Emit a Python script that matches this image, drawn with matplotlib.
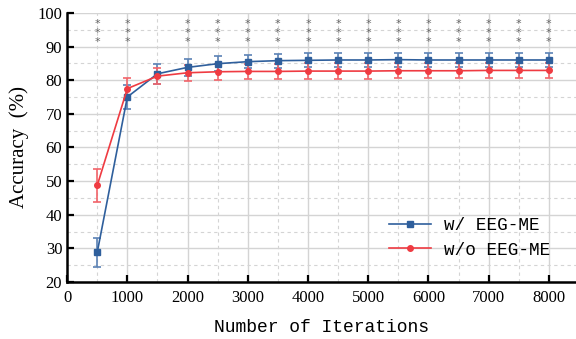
import numpy as np
import matplotlib
matplotlib.use('Agg')
import matplotlib.pyplot as plt
from matplotlib.ticker import MultipleLocator
from matplotlib.lines import Line2D

iters = [500, 1000, 1500, 2000, 2500, 3000, 3500, 4000, 4500, 5000, 5500, 6000, 6500, 7000, 7500, 8000]
acc_with = [28.8, 75.0, 81.9, 83.8, 84.9, 85.5, 85.8, 85.9, 86.0, 86.0, 86.1, 86.0, 86.0, 86.0, 86.0, 86.0]
err_with = [4.2, 3.6, 2.9, 2.5, 2.2, 2.0, 2.1, 2.1, 2.1, 2.1, 2.1, 2.1, 2.1, 2.1, 2.1, 2.1]
acc_without = [48.7, 77.5, 81.2, 82.2, 82.5, 82.6, 82.6, 82.7, 82.7, 82.7, 82.8, 82.8, 82.8, 82.9, 82.9, 82.9]
err_without = [4.9, 3.1, 2.4, 2.4, 2.4, 2.3, 2.3, 2.3, 2.3, 2.3, 2.3, 2.3, 2.3, 2.3, 2.3, 2.3]
star_iters = [500, 1000, 2000, 2500, 3000, 3500, 4000, 4500, 5000, 5500, 6000, 6500, 7000, 7500, 8000]
star_levels = [91.2, 94.0, 96.8]

BLUE = '#2f5f9c'
RED = '#ef3b42'
SERIF = 'Liberation Serif'
MONO = 'Liberation Mono'

fig = plt.figure(figsize=(5.76, 3.39), dpi=100)
ax = fig.add_axes([0.1165, 0.168, 0.8835, 0.794])

ax.errorbar(iters, acc_with, yerr=err_with, color=BLUE, ecolor='#5b82b5', lw=1.2,
            marker='s', ms=4, capsize=3, elinewidth=1.2, capthick=1.2, zorder=3)
ax.errorbar(iters, acc_without, yerr=err_without, color=RED, ecolor='#f2646a', lw=1.2,
            marker='o', ms=4, capsize=3, elinewidth=1.2, capthick=1.2, zorder=3)

for x in star_iters:
    for y in star_levels:
        ax.text(x, y, '*', color='#666666', fontsize=8, ha='center', va='center',
                family='DejaVu Sans')

ax.set_xlim(0, 8450)
ax.set_ylim(20, 100)
ax.xaxis.set_major_locator(MultipleLocator(1000))
ax.xaxis.set_minor_locator(MultipleLocator(500))
ax.yaxis.set_major_locator(MultipleLocator(10))
ax.yaxis.set_minor_locator(MultipleLocator(5))
ax.grid(which='major', color='#d4d4d4', lw=1.0, ls='-')
ax.grid(which='minor', color='#d4d4d4', lw=0.8, ls=(0, (3, 3)))
ax.set_axisbelow(True)

for s in ['top', 'right']:
    ax.spines[s].set_visible(False)
for s in ['left', 'bottom']:
    ax.spines[s].set_linewidth(1.8)
    ax.spines[s].set_color('black')

ax.tick_params(which='major', direction='in', length=5, width=1.6, labelsize=12)
ax.tick_params(axis='x', which='major', pad=6)
ax.tick_params(which='minor', length=0)
for lab in ax.get_xticklabels() + ax.get_yticklabels():
    lab.set_family(SERIF)

ax.set_xlabel('Number of Iterations', family=MONO, fontsize=13, labelpad=9)
ax.set_ylabel('Accuracy  (%)', family=SERIF, fontsize=15, labelpad=6)

handles = [Line2D([], [], color=BLUE, lw=1.2, marker='s', ms=4),
           Line2D([], [], color=RED, lw=1.2, marker='o', ms=4)]
ax.legend(handles, ['w/ EEG-ME', 'w/o EEG-ME'], loc='lower right',
          bbox_to_anchor=(0.98, 0.028), frameon=False,
          prop={'family': MONO, 'size': 12.7}, handlelength=2.4, handletextpad=0.7,
          labelspacing=0.45)

fig.savefig('out.png', dpi=100)
